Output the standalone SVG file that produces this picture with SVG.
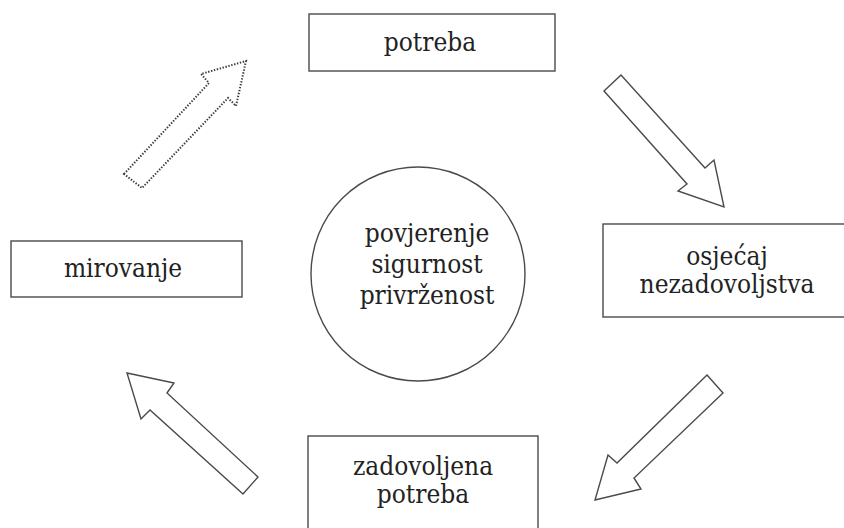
<svg xmlns="http://www.w3.org/2000/svg" width="844" height="528" viewBox="0 0 844 528">
<style>
.box{fill:#fff;stroke:#4a4a4a;stroke-width:1.4}
.arr{fill:#fff;stroke:#4a4a4a;stroke-width:1.4;stroke-linejoin:miter}
.dot{fill:none;stroke:#3a3a3a;stroke-width:2;stroke-dasharray:1.4 1.6}
text{font-family:'DejaVu Serif','Liberation Serif',serif;font-stretch:condensed;font-size:26px;fill:#222;text-anchor:middle}
</style>
<rect width="844" height="528" fill="#fff"/>
<g id="connectors">
<polygon class="dot" points="124,174 209,83 201,74 246,61 236,106 228,98 142,188"/>
<polygon class="arr" points="604,91 621,75 705,168 714,160 724,207 678,191 687,184"/>
<polygon class="arr" points="707,375 723,393 634,478 641,489 595,500 608,455 617,463"/>
<polygon class="arr" points="127,373 174,383 167,393 258,477 243,494 150,410 141,419"/>
</g>
<g id="potreba">
<rect class="box" x="309" y="14" width="246" height="57"/>
<text x="430" y="51">potreba</text>
</g>
<g id="osjecaj">
<rect class="box" x="603" y="224" width="250" height="93"/>
<text x="727" y="265">osjećaj</text>
<text x="727" y="293">nezadovoljstva</text>
</g>
<g id="zadovoljena">
<rect class="box" x="308" y="436" width="230" height="100"/>
<text x="423" y="475">zadovoljena</text>
<text x="423" y="503">potreba</text>
</g>
<g id="mirovanje">
<rect class="box" x="11" y="241" width="231" height="56"/>
<text x="123" y="277">mirovanje</text>
</g>
<g id="centar">
<circle class="box" cx="418" cy="274" r="107"/>
<text x="427" y="242">povjerenje</text>
<text x="427" y="273">sigurnost</text>
<text x="427" y="304">privrženost</text>
</g>
</svg>
